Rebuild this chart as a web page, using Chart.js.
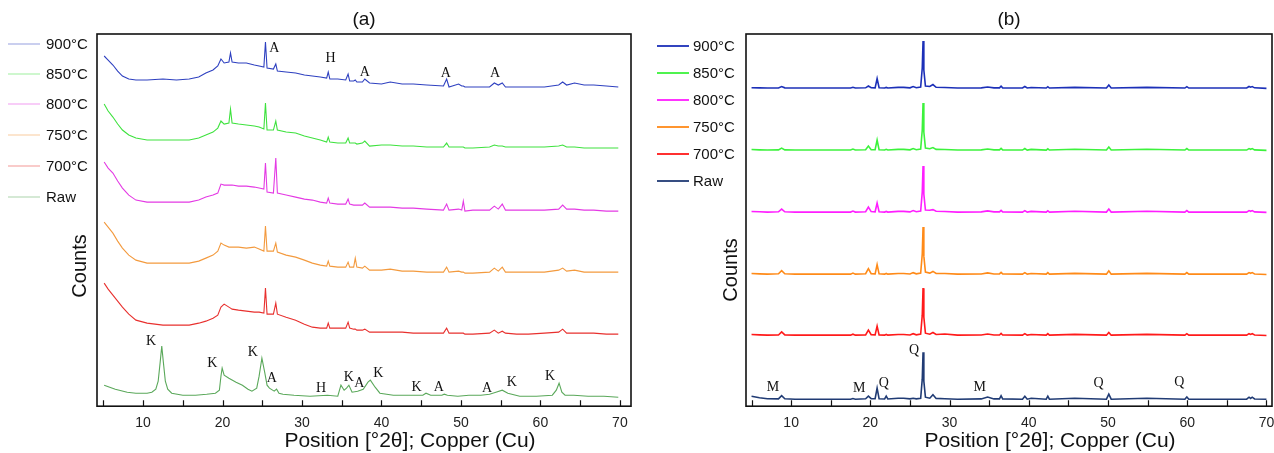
<!DOCTYPE html>
<html>
<head>
<meta charset="utf-8">
<script src="https://cdn.jsdelivr.net/npm/chart.js@4/dist/chart.umd.min.js"></script>
<style>
  html, body { margin: 0; padding: 0; background: #fff; }
  .panel { position: absolute; top: 0; height: 453px; }
  #wrapA { left: 0; width: 640px; }
  #wrapB { left: 640px; width: 634px; }
</style>
</head>
<body>
<div class="panel" id="wrapA"><canvas id="chartA" width="640" height="453"></canvas></div>
<div class="panel" id="wrapB"><canvas id="chartB" width="634" height="453"></canvas></div>
<script>
// series names (same order in both panels)
const seriesLabels = ['900°C', '850°C', '800°C', '750°C', '700°C', 'Raw'];

// ---- panel (a): heated samples share one 2θ grid ----
const xA = [5.1, 5.6, 6.2, 6.8, 7.4, 8.2, 9.1, 10.5, 12.5, 14.2, 15.8, 17.0, 17.9, 18.8, 19.4, 19.8, 20.2, 20.8, 21.0, 21.2,
  22.0, 23.0, 24.0, 24.6, 25.2, 25.4, 25.6, 26.4, 26.7, 26.9, 28.0, 29.2, 30.3, 31.3, 32.3, 33.1, 33.3, 33.5, 34.5, 35.5,
  35.8, 36.0, 36.5, 36.7, 36.9, 37.6, 37.9, 38.5, 40.0, 41.1, 42.6, 44.0, 45.7, 47.8, 48.2, 48.5, 49.7, 50.1, 50.3, 50.5,
  51.5, 53.6, 54.2, 54.7, 55.2, 55.6, 57.0, 58.5, 60.5, 62.3, 62.8, 63.3, 64.3, 65.5, 66.7, 68.3, 69.8];
const a900 = [350, 346, 341, 335, 330, 327, 326, 326, 327, 326, 327, 329, 333, 336, 340, 347, 343, 344, 353, 344,
  343, 343, 341, 340, 339, 364, 338, 337, 342, 335, 334, 333, 331, 330, 329, 328, 334, 327, 327, 326,
  332, 325, 325, 326, 324, 324, 327, 323, 322, 324, 322, 322, 321, 320, 327, 319, 322, 320, 320, 319,
  319, 319, 323, 321, 323, 319, 319, 319, 319, 321, 324, 321, 323, 321, 321, 320, 319];
const a850 = [302, 295, 289, 282, 276, 271, 268, 266, 266, 266, 266, 268, 271, 274, 278, 285, 282, 283, 297, 283,
  282, 281, 280, 279, 277, 303, 276, 276, 285, 276, 274, 273, 270, 268, 266, 264, 269, 264, 263, 263,
  268, 263, 263, 263, 262, 263, 265, 260, 261, 261, 260, 260, 259, 259, 263, 259, 259, 259, 259, 258,
  258, 259, 261, 260, 260, 259, 259, 259, 259, 260, 261, 259, 259, 258, 258, 258, 258];
const a800 = [244, 238, 233, 225, 218, 211, 206, 204, 204, 204, 204, 206, 209, 211, 213, 222, 221, 221, 221, 221,
  220, 220, 219, 218, 217, 243, 214, 213, 248, 213, 211, 209, 207, 206, 204, 203, 208, 203, 202, 202,
  207, 202, 201, 201, 201, 201, 203, 199, 199, 199, 198, 198, 197, 196, 202, 196, 197, 196, 205, 195,
  196, 196, 200, 197, 202, 196, 196, 196, 196, 197, 201, 197, 197, 196, 196, 195, 195];
const a750 = [184, 179, 173, 165, 158, 151, 146, 143, 143, 143, 143, 145, 148, 151, 155, 163, 161, 159, 159, 159,
  159, 158, 159, 157, 155, 180, 155, 155, 163, 154, 151, 149, 146, 143, 141, 140, 145, 140, 139, 139,
  144, 139, 139, 148, 139, 138, 140, 136, 136, 137, 135, 135, 134, 134, 139, 134, 135, 134, 134, 133,
  133, 134, 138, 135, 139, 134, 134, 134, 134, 136, 138, 135, 136, 134, 134, 134, 134];
const a700 = [123, 117, 111, 105, 99, 92, 86, 83, 81, 81, 81, 83, 85, 88, 91, 99, 102, 99, 98, 97,
  96, 95, 94, 94, 93, 118, 92, 92, 103, 92, 89, 86, 82, 79, 78, 78, 83, 78, 78, 78,
  84, 78, 77, 77, 76, 76, 77, 74, 74, 74, 74, 73, 73, 73, 78, 73, 73, 73, 73, 72,
  72, 73, 76, 73, 75, 73, 72, 72, 73, 74, 77, 73, 73, 73, 73, 72, 72];
// raw kaolin has its own peaks
const xRawA = [5.1, 6.5, 8.0, 9.1, 10.5, 11.1, 11.6, 11.9, 12.15, 12.35, 12.55, 12.8, 13.1, 13.6, 15.0, 16.6, 18.0, 19.1,
  19.6, 19.8, 19.95, 20.2, 20.8, 21.7, 22.5, 23.2, 23.7, 24.3, 24.6, 24.95, 25.3, 25.6, 25.9, 26.5, 26.8, 27.1, 27.6,
  29.0, 31.0, 33.2, 34.5, 34.9, 35.3, 35.6, 35.9, 36.3, 37.0, 37.7, 38.3, 38.6, 39.2, 39.8, 41.5, 43.5, 45.2, 45.6,
  46.2, 47.6, 47.9, 48.3, 49.6, 51.0, 52.5, 53.6, 54.4, 55.2, 55.9, 57.4, 59.5, 61.5, 62.0, 62.35, 62.7, 63.1, 64.2,
  66.0, 68.0, 69.8];
const aRaw = [21, 17, 14, 13, 13, 14, 17, 25, 44, 60, 44, 25, 17, 13, 11, 11, 12, 13,
  16, 30, 38, 31, 28, 24, 21, 17, 15, 18, 30, 48, 34, 21, 18, 15, 17, 13, 12,
  11, 10, 11, 10, 21, 16, 18, 21, 14, 15, 17, 24, 26, 19, 13, 11, 11, 11, 13,
  11, 11, 12, 11, 10, 11, 11, 12, 14, 16, 13, 10, 10, 11, 16, 23, 14, 11, 11,
  10, 10, 9];

// ---- panel (b) ----
const xB = [5.0, 6.0, 7.0, 8.4, 8.8, 9.2, 10.5, 12.5, 14.0, 17.5, 17.8, 18.1, 19.4, 19.75, 20.1, 20.6, 20.85, 21.1, 21.8, 22.0,
  22.2, 23.5, 24.2, 25.0, 25.4, 25.8, 26.35, 26.55, 26.65, 26.75, 26.95, 27.5, 27.9, 28.3, 29.4, 31.0, 34.0, 34.8, 35.6, 36.3,
  36.5, 36.7, 39.2, 39.5, 39.8, 40.3, 42.2, 42.4, 42.6, 45.8, 49.8, 50.1, 50.4, 54.9, 59.7, 59.95, 60.2, 67.5, 67.8, 68.0,
  68.2, 68.5, 70.0];
const b900 = [318.3, 318.2, 318, 318.1, 319.5, 318.2, 318, 318, 318, 318, 318.8, 318, 318.2, 320, 318.3, 318.2, 327.5, 318.3, 318, 318.6,
  318, 318.7, 318.7, 318.2, 319.5, 318.3, 319, 338, 365, 336, 320, 319.5, 321.5, 318.7, 318.5, 318, 318.2, 319, 318.2, 318.2,
  319.8, 318.2, 318, 319.5, 318, 318.6, 318, 319.3, 318, 318.7, 318, 321, 318, 318.7, 318, 319.4, 318, 318, 319.5, 318.8,
  319.5, 318.2, 317.7];
const b850 = [256.5, 256.2, 256, 256.2, 258, 256.2, 256, 256, 256, 256, 257, 256, 256.3, 260, 256.4, 256.3, 266, 256.3, 256, 256.7,
  256, 256.7, 256.7, 256.2, 257.5, 256.3, 257, 276, 303, 274, 258, 257.3, 258.5, 256.7, 256.6, 256, 256.2, 257, 256.2, 256.2,
  257.7, 256.2, 256, 257.5, 256, 256.7, 256, 257.3, 256, 256.8, 256, 259, 256, 256.8, 256, 257.5, 256, 256, 257.5, 256.8,
  257.5, 256.2, 255.7];
const b800 = [194.6, 194.3, 194, 194.3, 197, 194.3, 194, 194, 194, 194, 195, 194, 194.4, 199, 194.5, 194.3, 203, 194.3, 194, 194.7,
  194, 194.7, 194.7, 194.2, 195.5, 194.3, 195, 214, 240, 212, 196, 195.8, 196.5, 194.8, 194.6, 194, 194.2, 195.2, 194.2, 194.2,
  195.7, 194.2, 194, 195.5, 194, 194.7, 194, 195.4, 194, 194.8, 194, 197, 194, 194.8, 194, 195.5, 194, 194, 195.5, 194.8,
  195.5, 194.2, 193.7];
const b750 = [132.7, 132.3, 132, 132.3, 135.4, 132.3, 132, 132, 132, 132, 133, 132, 132.4, 137.5, 132.5, 132.3, 141.5, 132.3, 132, 132.7,
  132, 132.7, 132.7, 132.2, 133.5, 132.3, 133, 152, 179, 150, 134, 133, 134.7, 132.7, 132.6, 132, 132.2, 133.2, 132.2, 132.2,
  133.7, 132.2, 132, 133.5, 132, 132.7, 132, 133.5, 132, 132.8, 132, 135.3, 132, 132.8, 132, 133.5, 132, 132, 133.5, 132.8,
  133.5, 132.2, 131.7];
const b700 = [71.7, 71.3, 71, 71.2, 74.3, 71.3, 71, 71, 71, 71, 72, 71, 71.3, 76, 71.5, 71.3, 80, 71.3, 71, 71.7,
  71, 71.7, 71.7, 71.2, 72.5, 71.3, 72, 91, 118, 89, 73, 72, 73.7, 71.7, 72.2, 71, 71.2, 72.2, 71.2, 71.2,
  72.7, 71.2, 71, 72.5, 71, 71.7, 71, 72.5, 71, 71.8, 71, 73.7, 71, 71.8, 71, 72.5, 71, 71, 72.5, 71.8,
  72.5, 71.2, 70.7];
const bRaw = [10, 8.5, 7.5, 7.3, 10.5, 7.4, 7, 7, 7, 7, 7.7, 7, 7.4, 10, 7.5, 7.5, 18, 7.5, 7.2, 10,
  7.2, 8, 8, 7.3, 8, 7.3, 8, 27, 54, 25, 9, 8, 11.5, 7.8, 7.5, 7, 7.3, 9.2, 7.3, 7.3,
  10.5, 7.3, 7, 10, 7, 8, 7, 10, 7, 8, 7, 12, 7, 8, 7, 9.3, 7, 7, 9, 7.8,
  9, 7.2, 7];

// phase labels
const peakTextA = ['A', 'H', 'A', 'A', 'A', 'K', 'K', 'K', 'A', 'H', 'K', 'A', 'K', 'K', 'A', 'A', 'K', 'K'];
const peakXA = [26.5, 33.6, 37.9, 48.1, 54.3, 11.0, 18.7, 23.8, 26.2, 32.4, 35.9, 37.2, 39.6, 44.4, 47.2, 53.3, 56.4, 61.2];
const peakYA = [358, 348, 334, 333, 333, 65, 43, 54, 28, 18, 29, 23, 33, 19, 19, 18, 24, 30];
const peakTextB = ['M', 'M', 'Q', 'Q', 'M', 'Q', 'Q'];
const peakXB = [7.7, 18.6, 21.7, 25.5, 33.8, 48.8, 59.0];
const peakYB = [19, 18, 23, 56, 19, 23, 24];

const tickMarks = [5, 10, 15, 20, 25, 30, 35, 40, 45, 50, 55, 60, 65, 70];
const xAxisName = 'Position [°2θ]; Copper (Cu)';

const coloursA = ['#2e40c0', '#3ee23e', '#e43ae4', '#f39a3e', '#e8302e', '#5aa85a'];
const coloursB = ['#1c30b8', '#3cf23c', '#ff1eff', '#ff8a18', '#ff1a1a', '#203b74'];

function pts(xs, ys) {
  return xs.map((x, i) => ({ x: x, y: ys[i] }));
}

// frame box, inward tick marks, side legend, axis names, panel title
const panelPlugin = {
  id: 'panel',
  afterDraw(chart, args, opts) {
    const { ctx, chartArea: a } = chart;
    const x = chart.scales.x;
    ctx.save();
    ctx.strokeStyle = '#111';
    ctx.lineWidth = 1.6;
    ctx.strokeRect(a.left, a.top, a.right - a.left, a.bottom - a.top);
    ctx.lineWidth = 1.2;
    ctx.beginPath();
    tickMarks.forEach(v => {
      const px = Math.round(x.getPixelForValue(v)) + 0.5;
      ctx.moveTo(px, a.bottom);
      ctx.lineTo(px, a.bottom - 6);
    });
    ctx.stroke();

    ctx.fillStyle = '#111';
    ctx.textAlign = 'center';
    ctx.textBaseline = 'middle';
    // title
    ctx.font = '19px "Liberation Sans", Arial, sans-serif';
    ctx.fillText(opts.title, (a.left + a.right) / 2, 20);
    // x axis name
    ctx.font = '21px "Liberation Sans", Arial, sans-serif';
    ctx.fillText(xAxisName, opts.xNameX, 441);

    // y axis name
    ctx.save();
    ctx.translate(opts.countsX, opts.countsY);
    ctx.rotate(-Math.PI / 2);
    ctx.font = '20px "Liberation Sans", Arial, sans-serif';
    ctx.fillText('Counts', 0, 0);
    ctx.restore();

    // legend
    ctx.font = '15px "Liberation Sans", Arial, sans-serif';
    ctx.textAlign = 'left';
    chart.data.datasets.forEach((ds, i) => {
      const y = opts.legendY[i];
      ctx.save();
      ctx.globalAlpha = opts.legendAlpha;
      ctx.strokeStyle = ds.borderColor;
      ctx.lineWidth = opts.legendWidth;
      ctx.beginPath();
      ctx.moveTo(opts.legendX0, y);
      ctx.lineTo(opts.legendX1, y);
      ctx.stroke();
      ctx.restore();
      ctx.fillStyle = '#111';
      ctx.fillText(ds.label, opts.legendTx, y + 1);
    });

    // phase letters
    ctx.font = '14px "Liberation Serif", "Times New Roman", serif';
    ctx.textAlign = 'center';
    const y = chart.scales.y;
    opts.peaks.text.forEach((t, i) => {
      ctx.fillText(t, x.getPixelForValue(opts.peaks.xs[i]), y.getPixelForValue(opts.peaks.ys[i]));
    });
    ctx.restore();
  }
};

function makeOptions(xmin, xmax, pad, extra) {
  return {
    responsive: false,
    animation: false,
    layout: { padding: pad },
    elements: { point: { radius: 0 }, line: { tension: 0 } },
    scales: {
      x: {
        type: 'linear',
        min: xmin,
        max: xmax,
        grid: { display: false, drawTicks: false },
        border: { display: false },
        // keep the plot box where the layout padding puts it
        afterFit: scale => { scale.paddingLeft = 0; scale.paddingRight = 0; },
        ticks: {
          stepSize: 5,
          includeBounds: false,
          autoSkip: false,
          maxRotation: 0,
          padding: 9,
          color: '#222',
          font: { family: '"Liberation Sans", Arial, sans-serif', size: 14 },
          callback: v => (v % 10 === 0 ? String(v) : '')
        },
        title: { display: false }
      },
      y: { display: false, min: 0, max: 372 }
    },
    plugins: {
      legend: { display: false },
      tooltip: { enabled: false },
      panel: extra
    }
  };
}

const rawXs = [xA, xA, xA, xA, xA, xRawA];
const seriesA = [a900, a850, a800, a750, a700, aRaw];
new Chart(document.getElementById('chartA'), {
  type: 'line',
  data: {
    datasets: seriesLabels.map((lab, i) => ({
      label: lab,
      data: pts(rawXs[i], seriesA[i]),
      borderColor: coloursA[i],
      borderWidth: 1.1,
      fill: false
    }))
  },
  options: makeOptions(4.2, 71.4, { left: 97, right: 9, top: 34, bottom: 12 }, {
    title: '(a)',
    xNameX: 410,
    countsX: 80, countsY: 266,
    legendX0: 8, legendX1: 40, legendTx: 46, legendWidth: 1, legendAlpha: 0.5,
    legendY: [44, 74, 104, 135, 166, 197],
    peaks: { text: peakTextA, xs: peakXA, ys: peakYA }
  }),
  plugins: [panelPlugin]
});

const seriesB = [b900, b850, b800, b750, b700, bRaw];
new Chart(document.getElementById('chartB'), {
  type: 'line',
  data: {
    datasets: seriesLabels.map((lab, i) => ({
      label: lab,
      data: pts(xB, seriesB[i]),
      borderColor: coloursB[i],
      borderWidth: 1.6,
      fill: false
    }))
  },
  options: makeOptions(4.3, 70.7, { left: 106, right: 2, top: 34, bottom: 12 }, {
    title: '(b)',
    xNameX: 410,
    countsX: 91, countsY: 270,
    legendX0: 17, legendX1: 49, legendTx: 53, legendWidth: 2, legendAlpha: 0.9,
    legendY: [46, 73, 100, 127, 154, 181],
    peaks: { text: peakTextB, xs: peakXB, ys: peakYB }
  }),
  plugins: [panelPlugin]
});
</script>
</body>
</html>
